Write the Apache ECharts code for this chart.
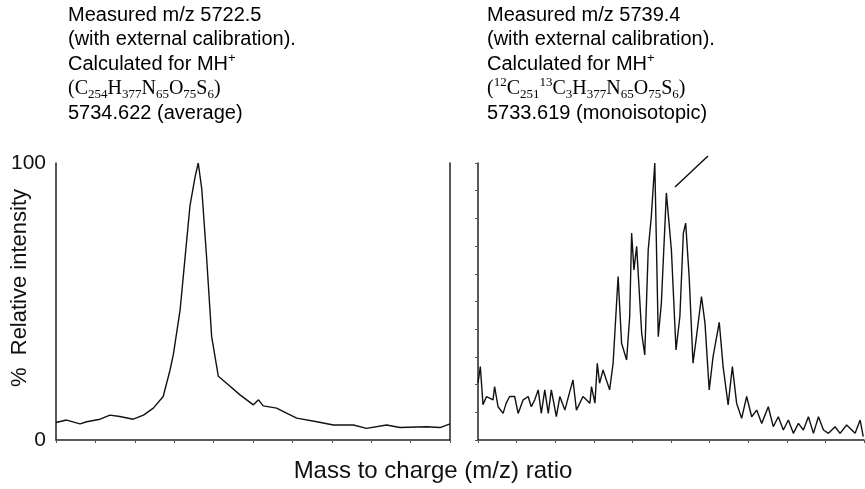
<!DOCTYPE html>
<html><head><meta charset="utf-8">
<script src="https://cdn.jsdelivr.net/npm/echarts@6/dist/echarts.min.js"></script>
<style>html,body{margin:0;background:#fff}#c{width:865px;height:489px}</style></head>
<body><div id="c"></div>
<script>
// Left: average spectrum [x (0-100 of panel), % intensity]
const leftX = [0,2.7,6.1,7.8,11.2,13.7,16.2,19.6,22.2,24.7,27.2,28.9,29.8,31.5,32.3,34,35.3,36.1,37,38.2,39.5,41.2,43.3,46.7,50.1,51.4,52.6,56,58.5,61.1,66.2,70.4,75.5,78.8,83.9,87.3,94.1,97.5,100];
const leftY = [6.3,7.2,5.8,6.6,7.5,9,8.5,7.5,9,11.5,15.7,25,31,47,59,84.5,95,100,90.6,66.4,37.4,23,20.5,16.3,12.7,14.5,12.3,11.5,9.7,7.9,6.6,5.4,5.4,4.2,5.4,4.5,4.8,4.5,5.8];
// Right: monoisotopic-resolved spectrum
const rightX = [0,0.6,1.3,2.2,3.9,4.3,5.2,6.5,7.3,8.2,9.5,10.4,11.7,13,13.8,14.7,15.6,16.4,17.3,18.2,19,20.3,21.2,22.5,24.6,25.5,27.2,29,29.4,30.3,30.9,31.5,32.4,34.1,35,35.7,36.3,37.2,38.5,39.3,39.8,40.4,41.1,42.4,43.2,44.1,44.9,45.8,46.7,47.5,48.8,50.1,51.3,52.3,53.2,53.8,54.7,55.7,56.6,57.9,58.8,59.9,60.9,62.5,63.5,64.8,65.9,67,68.3,69.6,70.9,72.2,73.5,75.2,76.5,77.8,79.1,80.4,81.7,83,84.3,85.6,86.9,88.2,89.5,90.8,92.5,93.8,95.5,97.7,99,99.8];
const rightY = [20.5,26.5,12.7,15.7,14.5,19.3,12,9.6,13.3,15.7,15.7,9.6,14.5,15.7,12,14.5,18.1,9.6,18.1,9.6,18.1,8.4,15.7,10.8,21.7,10.8,15.7,13.3,19.3,13.3,27.7,20.5,25.3,18.1,27.7,44.6,59,34.9,28.9,44.6,74.7,61.4,69.9,38.6,30.7,68.7,80.7,100,37.3,49.4,89.2,68.7,32.5,44.6,74.7,78.3,59,27.7,37.3,51.8,42.2,18.1,30.1,42.5,26.5,12.7,26.5,13.3,7.8,15.7,8.4,10.8,6,12,4.8,8.4,3.6,7.2,2.4,6,3.6,8.4,2.4,8.4,3.6,2.4,4.8,2.4,5.4,2.4,7.2,1.2];
const yTickLabels = ['0','100'];

const zip = (a,b)=>a.map((v,i)=>[v,b[i]]);
const F = 'Liberation Sans, Arial, sans-serif';
const S = 'Liberation Serif, Times New Roman, serif';
const axisLine = {show:true,lineStyle:{color:'#222',width:1.5}};
const xAx = i => ({type:'value',gridIndex:i,min:0,max:100,interval:10,axisLine,axisTick:{show:true,length:3,lineStyle:{color:'#555'}},axisLabel:{show:false},splitLine:{show:false}});
const rich = {
  n:{fontSize:20,fontFamily:F,color:'#111',lineHeight:24.5},
  t:{fontSize:20,fontFamily:S,color:'#111',lineHeight:24.5},
  s:{fontSize:13,fontFamily:S,color:'#111',verticalAlign:'bottom',lineHeight:24.5,padding:[9,0,0,0]},
  p:{fontSize:13,fontFamily:F,color:'#111',verticalAlign:'top',lineHeight:24.5,padding:[0,0,9,0]},
  q:{fontSize:13,fontFamily:S,color:'#111',verticalAlign:'top',lineHeight:24.5,padding:[0,0,9,0]}
};
const chart = echarts.init(document.getElementById('c'));
chart.setOption({
  animation:false,
  grid:[{left:56,top:163,width:394,height:277},{left:478,top:163,width:386,height:277}],
  xAxis:[xAx(0),xAx(1)],
  yAxis:[
    {type:'value',gridIndex:0,min:0,max:100,interval:100,axisLine,axisTick:{show:false},
     axisLabel:{fontSize:21,fontFamily:F,color:'#111',margin:10,formatter:v=>yTickLabels[v/100]},splitLine:{show:false}},
    {type:'value',gridIndex:0,position:'right',min:0,max:100,axisLine,axisTick:{show:false},axisLabel:{show:false},splitLine:{show:false}},
    {type:'value',gridIndex:1,min:0,max:100,interval:10,axisLine,axisTick:{show:true,length:3,lineStyle:{color:'#555'}},axisLabel:{show:false},splitLine:{show:false}}
  ],
  series:[
    {type:'line',xAxisIndex:0,yAxisIndex:0,data:zip(leftX,leftY),showSymbol:false,lineStyle:{color:'#111',width:1.4}},
    {type:'line',xAxisIndex:1,yAxisIndex:2,data:zip(rightX,rightY),showSymbol:false,lineStyle:{color:'#111',width:1.4}}
  ],
  graphic:[
    {type:'text',left:68,top:5,style:{rich,text:'{n|Measured m/z 5722.5}\n{n|(with external calibration).}\n{n|Calculated for MH}{p|+}\n{t|(C}{s|254}{t|H}{s|377}{t|N}{s|65}{t|O}{s|75}{t|S}{s|6}{t|)}\n{n|5734.622 (average)}'}},
    {type:'text',left:487,top:5,style:{rich,text:'{n|Measured m/z 5739.4}\n{n|(with external calibration).}\n{n|Calculated for MH}{p|+}\n{t|(}{q|12}{t|C}{s|251}{q|13}{t|C}{s|3}{t|H}{s|377}{t|N}{s|65}{t|O}{s|75}{t|S}{s|6}{t|)}\n{n|5733.619 (monoisotopic)}'}},
    {type:'line',shape:{x1:675,y1:187,x2:708,y2:156},style:{stroke:'#111',lineWidth:1.5}},
    {type:'text',x:20,y:288,rotation:Math.PI/2,style:{text:'%  Relative intensity',font:'22px '+F,fill:'#111',align:'center',verticalAlign:'middle'}},
    {type:'text',x:433,y:471,style:{text:'Mass to charge (m/z) ratio',font:'24px '+F,fill:'#111',align:'center',verticalAlign:'middle'}}
  ]
});
</script></body></html>
